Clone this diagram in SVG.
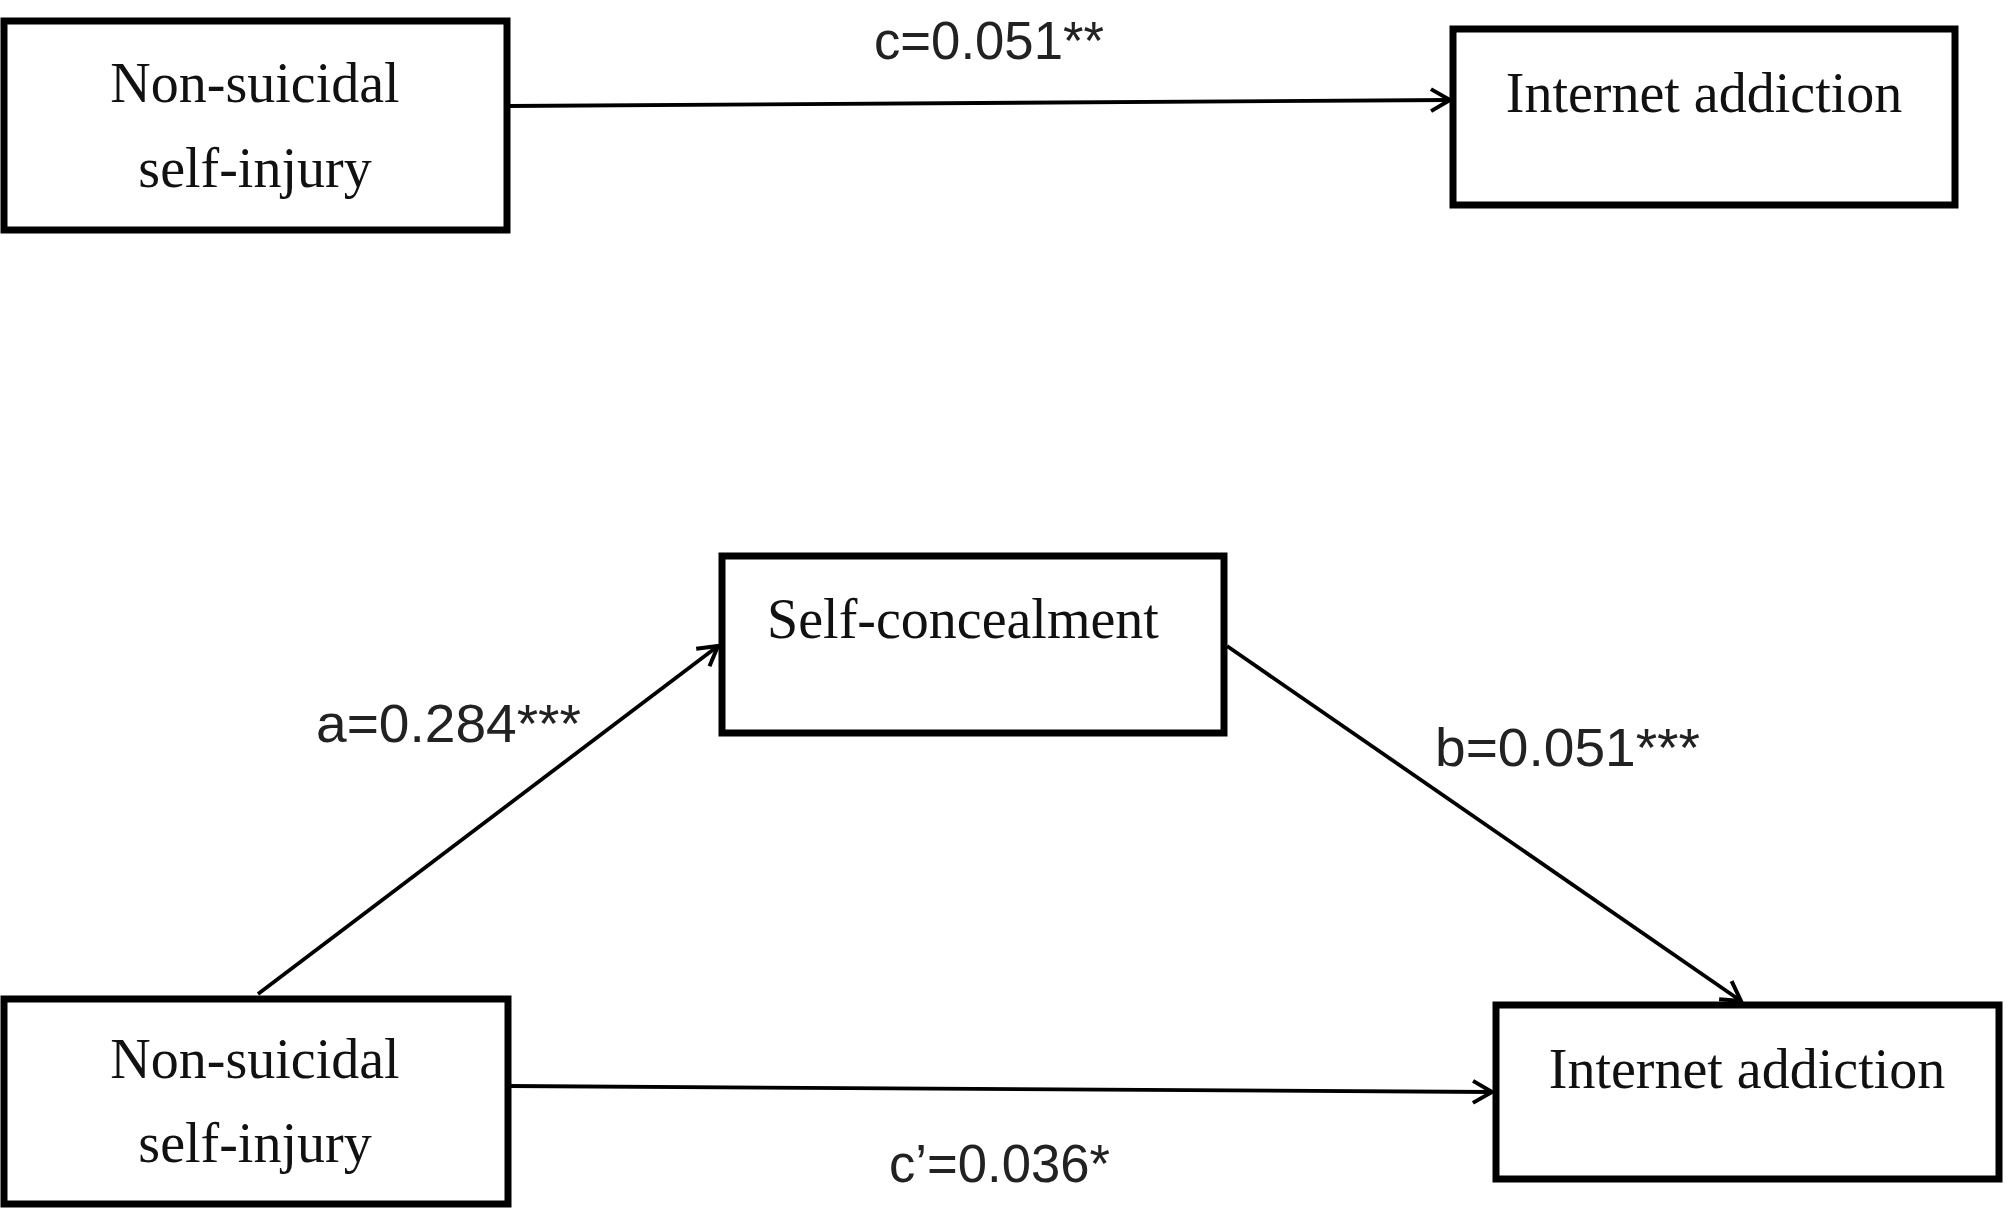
<svg xmlns="http://www.w3.org/2000/svg" width="2008" height="1210" viewBox="0 0 2008 1210">
<defs>
<style>
.box{fill:#fff;stroke:#000;stroke-width:7}
.nt{font-family:"Liberation Serif","Times New Roman",serif;font-size:56px;fill:#111;text-anchor:middle}
.lbl{font-family:"Liberation Sans",Arial,sans-serif;font-size:54px;fill:#222}
.edge{stroke:#000;stroke-width:3.8;fill:none}
</style>
<marker id="arr" markerUnits="userSpaceOnUse" markerWidth="26" markerHeight="26" viewBox="0 0 26 26" refX="22" refY="13" orient="auto">
<path d="M3,2 L22,13 L3,24" fill="none" stroke="#000" stroke-width="4"/>
</marker>
</defs>
<rect width="2008" height="1210" fill="#fff"/>
<g id="connectors">
<line class="edge" x1="509" y1="106" x2="1450" y2="100" marker-end="url(#arr)"/>
<line class="edge" x1="258" y1="994" x2="718" y2="646" marker-end="url(#arr)"/>
<line class="edge" x1="1227" y1="646" x2="1741" y2="1001" marker-end="url(#arr)"/>
<line class="edge" x1="509" y1="1086" x2="1492" y2="1092" marker-end="url(#arr)"/>
<text class="lbl" x="874" y="59" textLength="230" lengthAdjust="spacingAndGlyphs">c=0.051**</text>
<text class="lbl" x="316" y="742" textLength="265" lengthAdjust="spacingAndGlyphs">a=0.284***</text>
<text class="lbl" x="1435" y="766" textLength="265" lengthAdjust="spacingAndGlyphs">b=0.051***</text>
<text class="lbl" x="889" y="1182" textLength="221" lengthAdjust="spacingAndGlyphs">c’=0.036*</text>
</g>
<g id="node-nssi-top">
<rect class="box" x="4" y="21" width="503" height="209"/>
<text class="nt" x="255" y="102">Non-suicidal</text>
<text class="nt" x="255" y="187">self-injury</text>
</g>
<g id="node-ia-top">
<rect class="box" x="1453" y="29" width="502" height="176"/>
<text class="nt" x="1704" y="112">Internet addiction</text>
</g>
<g id="node-sc">
<rect class="box" x="722" y="556" width="502" height="177"/>
<text class="nt" x="963" y="638">Self-concealment</text>
</g>
<g id="node-nssi-bottom">
<rect class="box" x="4" y="999" width="504" height="205"/>
<text class="nt" x="255" y="1078">Non-suicidal</text>
<text class="nt" x="255" y="1162">self-injury</text>
</g>
<g id="node-ia-bottom">
<rect class="box" x="1496" y="1005" width="503" height="174"/>
<text class="nt" x="1747" y="1088">Internet addiction</text>
</g>
</svg>
